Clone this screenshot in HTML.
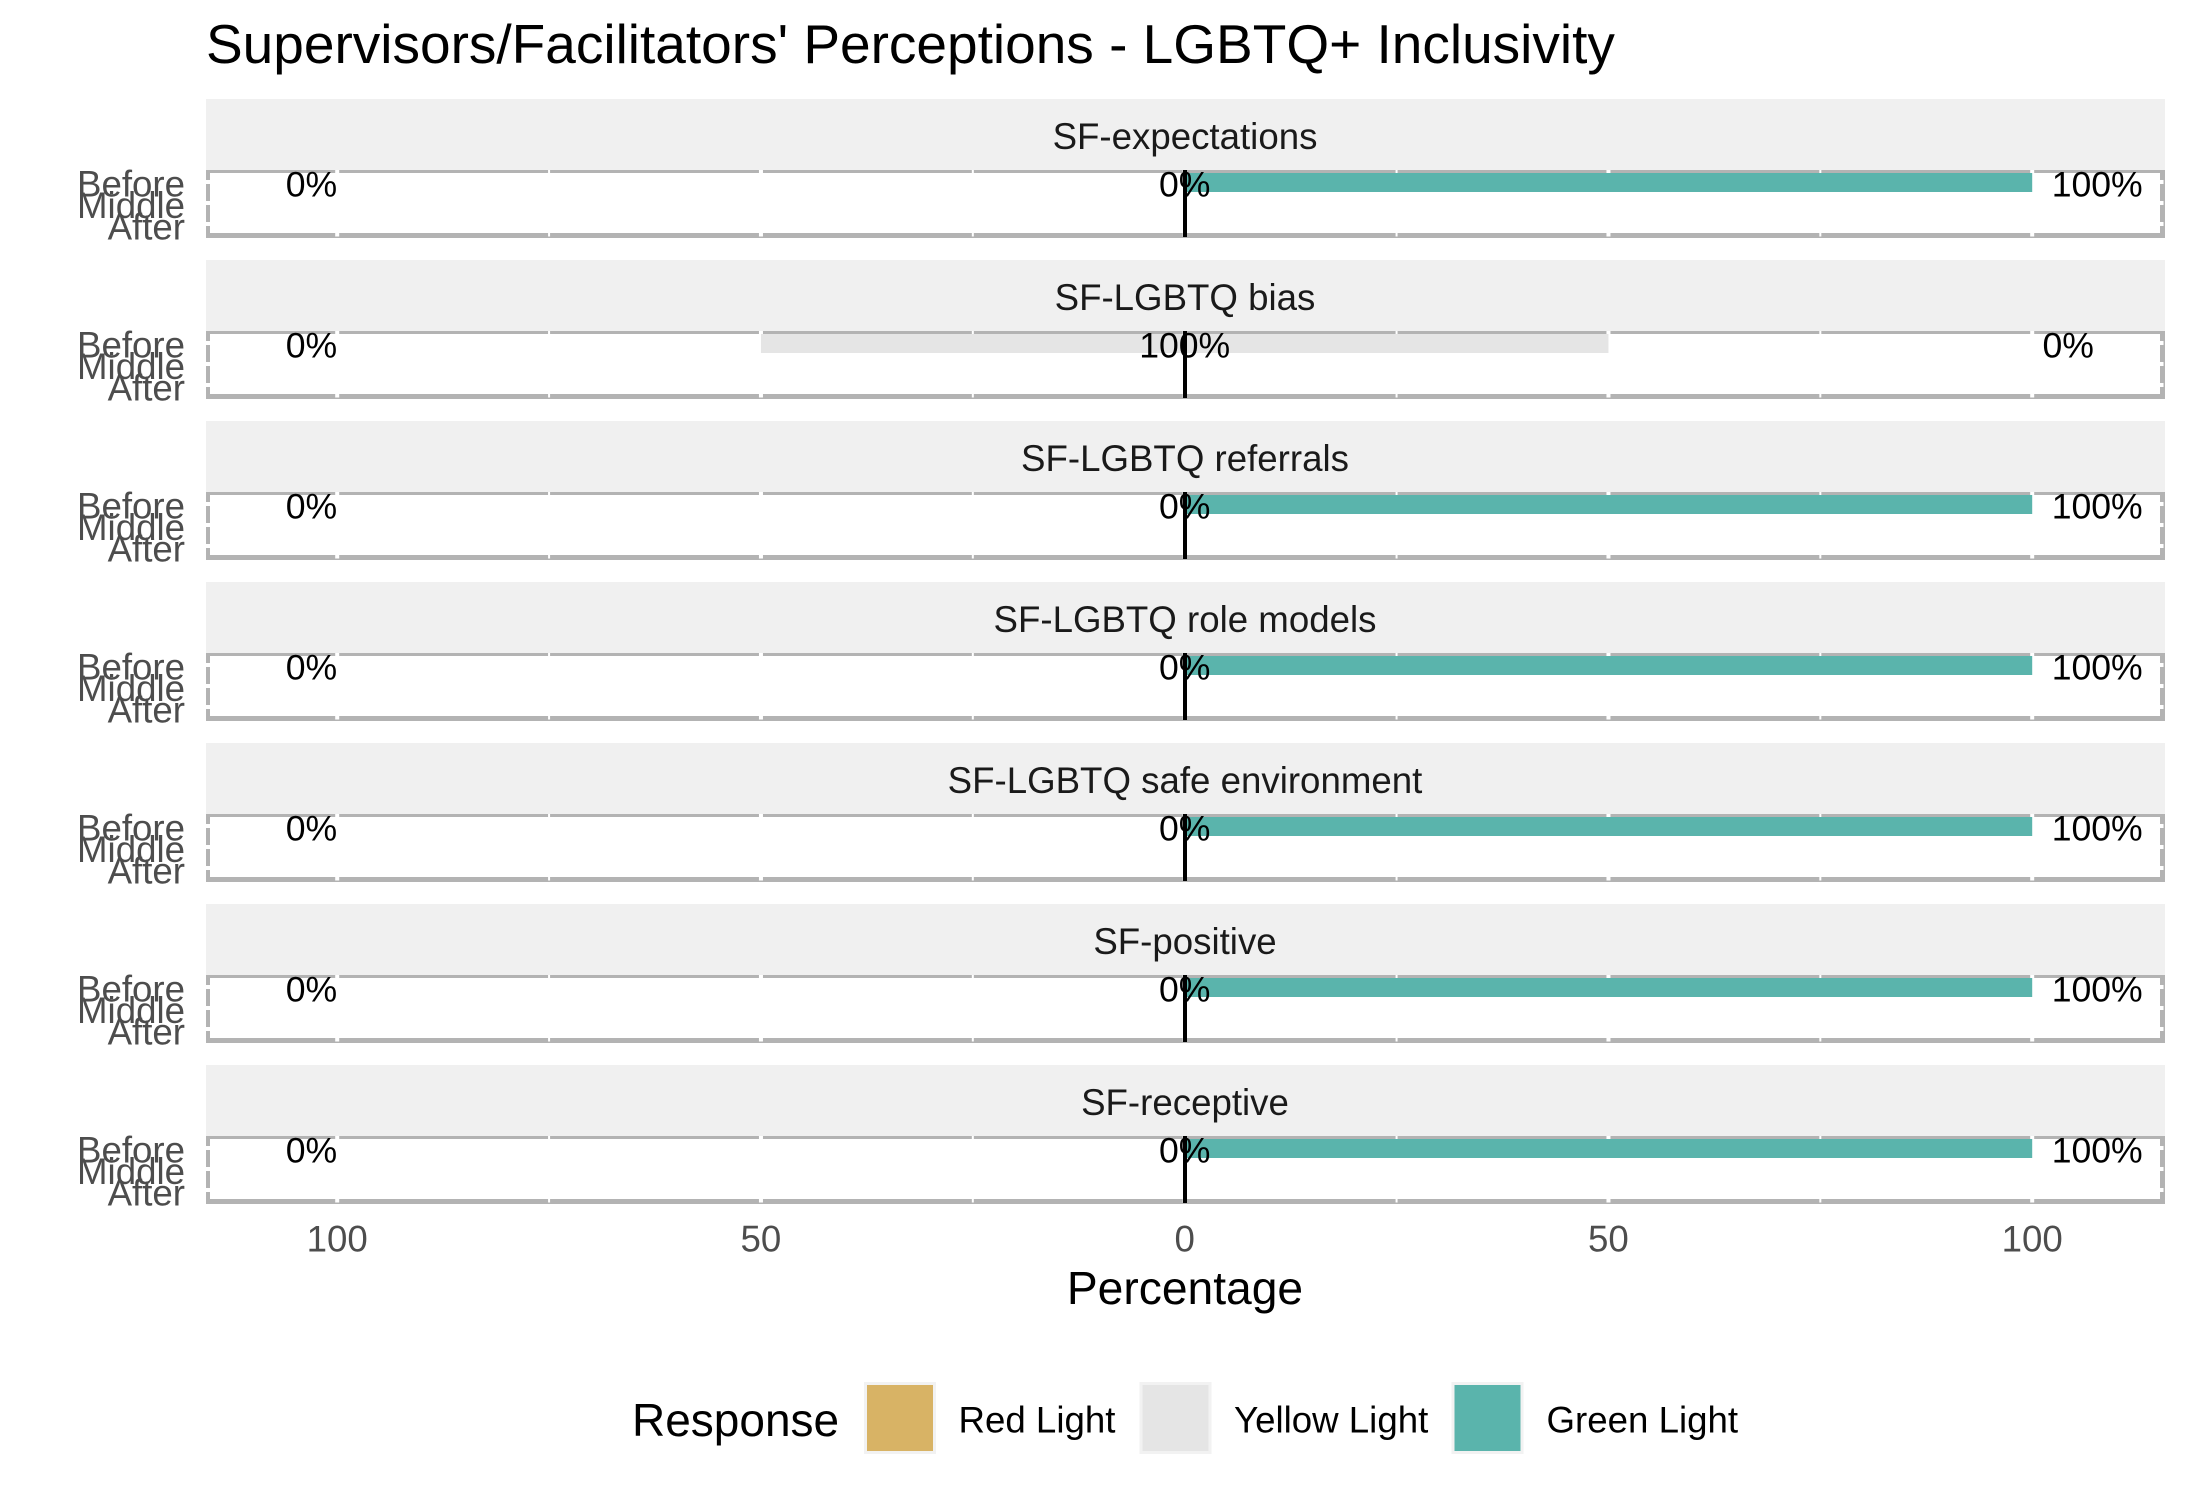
<!DOCTYPE html>
<html lang="en">
<head>
<meta charset="utf-8">
<title>Supervisors/Facilitators' Perceptions - LGBTQ+ Inclusivity</title>
<style>
html,body{margin:0;padding:0;background:#fff;width:2187px;height:1500px;overflow:hidden}
svg{display:block}
text{font-family:"Liberation Sans",Arial,sans-serif}
</style>
</head>
<body>
<svg id="chart" xmlns="http://www.w3.org/2000/svg" width="2187" height="1500" viewBox="0 0 2187 1500">
  <rect x="0" y="0" width="2187" height="1500" fill="#ffffff"/>
  <text x="206" y="63" font-size="55" fill="#000000">Supervisors/Facilitators' Perceptions - LGBTQ+ Inclusivity</text>
  <text x="1185" y="1304" font-size="46.2" fill="#000000" text-anchor="middle">Percentage</text>
  <g>
    <text x="632" y="1436" font-size="46" fill="#000000">Response</text>
    <g>
      <rect x="864" y="1382" width="72" height="72" fill="#f2f2f2"/>
      <rect x="867" y="1385" width="66" height="66" fill="#d8b365"/>
      <text x="958.5" y="1432.5" font-size="36.67" fill="#000000">Red Light</text>
    </g>
    <g>
      <rect x="1139.5" y="1382" width="72" height="72" fill="#f2f2f2"/>
      <rect x="1142.5" y="1385" width="66" height="66" fill="#e5e5e5"/>
      <text x="1234" y="1432.5" font-size="36.67" fill="#000000">Yellow Light</text>
    </g>
    <g>
      <rect x="1451.5" y="1382" width="72" height="72" fill="#f2f2f2"/>
      <rect x="1454.5" y="1385" width="66" height="66" fill="#5ab4ac"/>
      <text x="1546.5" y="1432.5" font-size="36.67" fill="#000000">Green Light</text>
    </g>
  </g>
</svg>
<script>
const facets = ['SF-expectations', 'SF-LGBTQ bias', 'SF-LGBTQ referrals', 'SF-LGBTQ role models', 'SF-LGBTQ safe environment', 'SF-positive', 'SF-receptive'];
const stages = ['Before', 'Middle', 'After'];
const redBefore = [0, 0, 0, 0, 0, 0, 0];
const yellowBefore = [0, 100, 0, 0, 0, 0, 0];
const greenBefore = [100, 0, 100, 100, 100, 100, 100];
const xTicks = [-100, -50, 0, 50, 100];
const xTickLabels = ['100', '50', '0', '50', '100'];
const xMinorTicks = [-75, -25, 25, 75];

const NS = 'http://www.w3.org/2000/svg';
const svg = document.getElementById('chart');
const PANEL_LEFT = 206, PANEL_RIGHT = 2165, FACET_STEP = 161;
const xScale = v => 1184.7 + v * 8.475;
const stripTop = i => 99 + i * FACET_STEP;
const panelTop = i => 170 + i * FACET_STEP;
const yScale = (i, s) => panelTop(i) + 12 + s * 21;

function make(tag, parent, attrs, txt) {
  const el = document.createElementNS(NS, tag);
  for (const k in attrs) el.setAttribute(k, attrs[k]);
  if (txt !== undefined) el.textContent = txt;
  parent.appendChild(el);
  return el;
}

facets.forEach((facet, i) => {
  const g = make('g', svg, {});
  
  
  const pTop = panelTop(i);

  const strip = make('rect', g, {x: PANEL_LEFT, y: stripTop(i), width: PANEL_RIGHT - PANEL_LEFT, height: 71, fill: '#f0f0f0'});
  
  

  const stripText = make('text', g, {x: 1185, y: stripTop(i) + 50, 'font-size': 36.67, fill: '#1a1a1a', 'text-anchor': 'middle'}, facet);
  
  

  const border = make('rect', g, {x: PANEL_LEFT, y: pTop, width: PANEL_RIGHT - PANEL_LEFT, height: 68, fill: '#b3b3b3'});
  
  

  const inner = make('rect', g, {x: 210, y: pTop + 3, width: 1950, height: 60, fill: '#ffffff'});
  
  

  xMinorTicks.forEach(t => {
    const ln = make('rect', g, {x: xScale(t) - 1, y: pTop, width: 2, height: 66.5, fill: '#ffffff'});
    
    
  });
  xTicks.forEach(t => {
    const ln = make('rect', g, {x: xScale(t) - 2, y: pTop, width: 4, height: 66.5, fill: '#ffffff'});
    
    
  });
  stages.forEach((st, s) => {
    const ln = make('rect', g, {x: PANEL_LEFT, y: yScale(i, s) - 2, width: PANEL_RIGHT - PANEL_LEFT - 1.5, height: 4, fill: '#ffffff'});
    
    

    const lab = make('text', g, {x: 185, y: pTop + 26.7 + s * 21.3, 'font-size': 36.67, fill: '#4d4d4d', 'text-anchor': 'end'}, st);
    
    
  });

  const barTop = yScale(i, 0) - 9;
  const barH = 19;
  const yHalf = yellowBefore[i] / 2;

  const redBar = make('rect', g, {x: xScale(-yHalf - redBefore[i]), y: barTop, width: xScale(-yHalf) - xScale(-yHalf - redBefore[i]), height: barH, fill: '#d8b365'});
  
  

  const yellowBar = make('rect', g, {x: xScale(-yHalf), y: barTop, width: xScale(yHalf) - xScale(-yHalf), height: barH, fill: '#e5e5e5'});
  
  

  const greenBar = make('rect', g, {x: xScale(yHalf), y: barTop, width: xScale(yHalf + greenBefore[i]) - xScale(yHalf), height: barH, fill: '#5ab4ac'});
  
  

  const zero = make('rect', g, {x: xScale(0) - 1.7, y: pTop, width: 4, height: 67, fill: '#000000'});
  
  

  const labelY = pTop + 26.7;
  const leftLab = make('text', g, {x: xScale(-100), y: labelY, 'font-size': 35.6, fill: '#000000', 'text-anchor': 'end'}, redBefore[i] + '%');
  
  

  const midLab = make('text', g, {x: xScale(0), y: labelY, 'font-size': 35.6, fill: '#000000', 'text-anchor': 'middle'}, yellowBefore[i] + '%');
  
  

  const rightLab = make('text', g, {x: xScale(100) + 36 + greenBefore[i] * 0.29, y: labelY, 'font-size': 35.6, fill: '#000000', 'text-anchor': 'middle'}, greenBefore[i] + '%');
  
  
});

xTicks.forEach((t, k) => {
  const lab = make('text', svg, {x: xScale(t), y: 1251.7, 'font-size': 36.67, fill: '#4d4d4d', 'text-anchor': 'middle'}, xTickLabels[k]);
  
  
});
</script>
</body>
</html>
